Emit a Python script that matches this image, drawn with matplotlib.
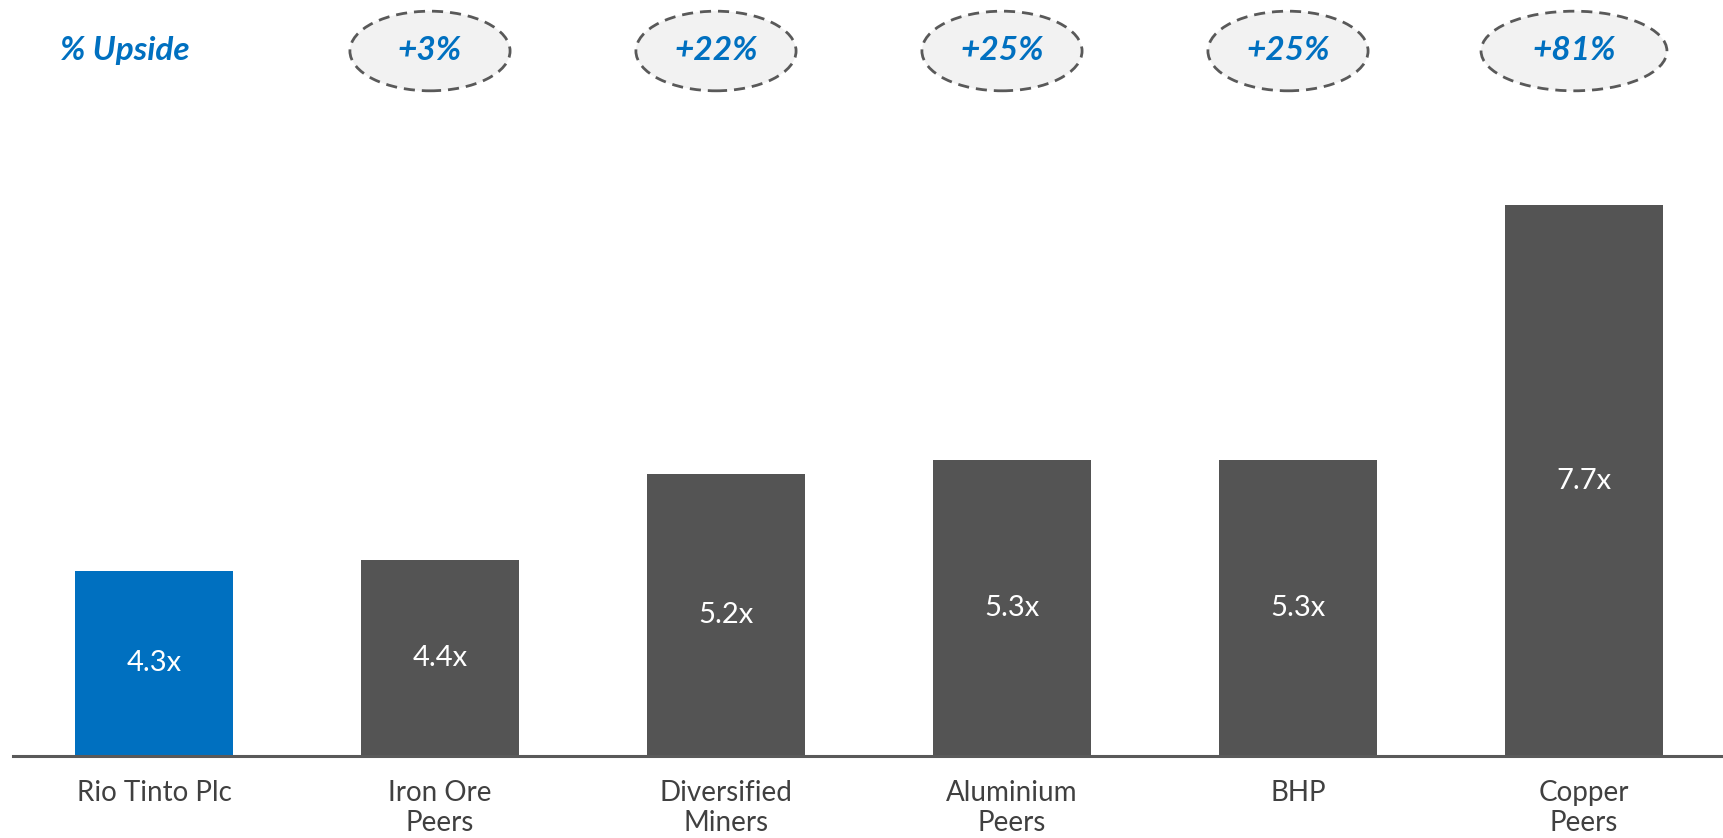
import matplotlib
matplotlib.use("Agg")
import matplotlib.pyplot as plt
from matplotlib.patches import Ellipse

# chart data
categories = ["Rio Tinto Plc", "Iron Ore\nPeers", "Diversified\nMiners",
              "Aluminium\nPeers", "BHP", "Copper\nPeers"]
multiples = [4.3, 4.4, 5.2, 5.33, 5.33, 7.7]
value_labels = ["4.3x", "4.4x", "5.2x", "5.3x", "5.3x", "7.7x"]
upside_labels = ["+3%", "+22%", "+25%", "+25%", "+81%"]

BLUE = "#0070C0"
GREY = "#545454"
plt.rcParams["font.family"] = ["Lato", "DejaVu Sans"]

fig = plt.figure(figsize=(17.23, 8.38), dpi=100)
ax = fig.add_axes([13 / 1723, 82 / 838, 1 - 13 / 1723, 656 / 838])

x = list(range(len(categories)))
colors = [BLUE] + [GREY] * (len(categories) - 1)
ymin = 2.58
bars = ax.bar(x, [v - ymin for v in multiples], bottom=ymin, width=0.553,
              color=colors, zorder=2)

ax.set_xlim(-0.493, 5.486)
ax.set_ylim(ymin, ymin + 656 / 107.6)

# value labels in the middle of each bar
for b, lab in zip(bars, value_labels):
    ax.text(b.get_x() + b.get_width() / 2, b.get_y() + b.get_height() / 2, lab,
            ha="center", va="center", color="white", fontsize=21)

for s in ["top", "right", "left"]:
    ax.spines[s].set_visible(False)
ax.spines["bottom"].set_color("#595959")
ax.spines["bottom"].set_linewidth(2.2)
ax.set_yticks([])
ax.set_xticks(x)
ax.set_xticklabels(categories, fontsize=20, color="#404040", linespacing=1.2)
ax.tick_params(axis="x", length=0, pad=17)

# % upside row
y_top = ymin + (756 - 51) / 107.6
ax.text(-0.33, y_top, "% Upside", ha="left", va="center", color=BLUE,
        fontsize=24, fontweight="bold", fontstyle="italic", clip_on=False)
widths = [0.56, 0.56, 0.56, 0.56, 0.65]
for i, lab in enumerate(upside_labels):
    cx = x[i + 1] - 0.035
    e = Ellipse((cx, y_top), widths[i], 0.74, facecolor="#f2f2f2",
                edgecolor="#595959", linewidth=2, linestyle=(0, (4, 2.5)),
                clip_on=False)
    ax.add_patch(e)
    ax.text(cx, y_top, lab, ha="center", va="center", color=BLUE,
            fontsize=24, fontweight="bold", fontstyle="italic", clip_on=False)

fig.savefig("out.png", dpi=100)
